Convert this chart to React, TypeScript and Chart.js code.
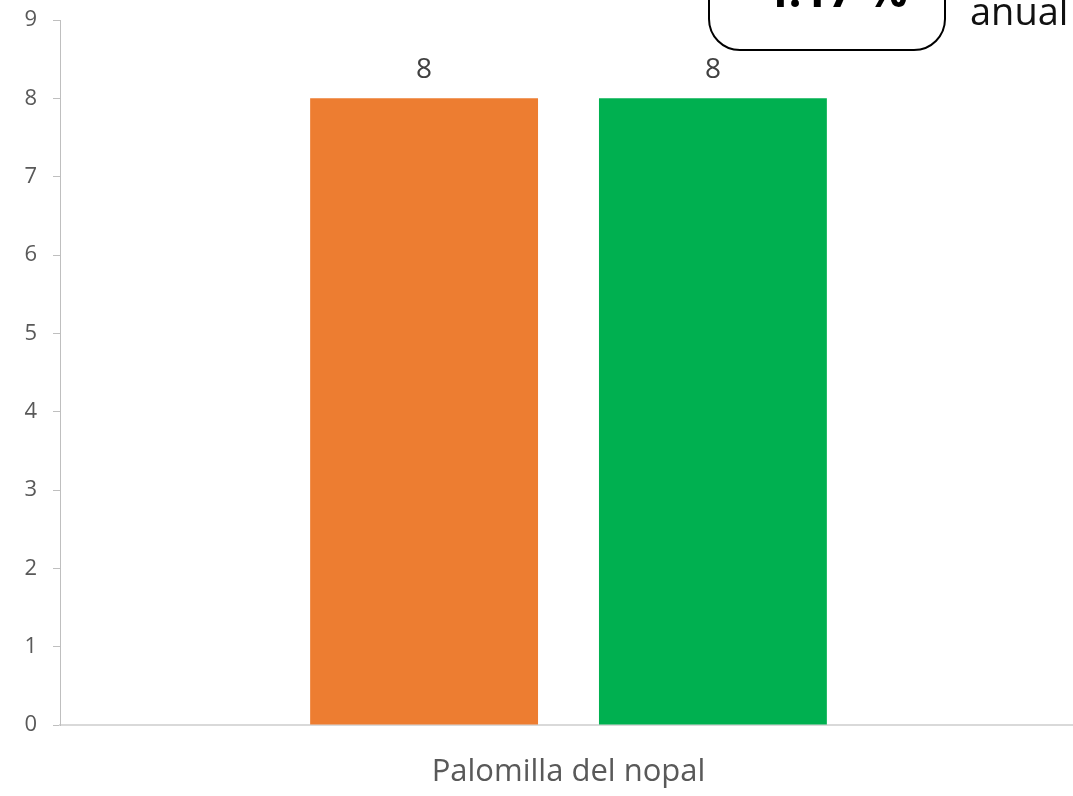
import React, { useEffect, useRef } from "react";
import { Chart, registerables } from "chart.js";

Chart.register(...registerables);

const categories = ["Palomilla del nopal"];
const seriesA = [8];
const seriesB = [8];
const seriesColors = ["#ED7D31", "#00B050"];
const yTicks = [0, 1, 2, 3, 4, 5, 6, 7, 8, 9];
const boxText = "4.17 %";
const sideText = "anual";

const valueLabels = {
  id: "valueLabels",
  afterDatasetsDraw(chart: any) {
    const ctx = chart.ctx;
    ctx.save();
    ctx.font = "28px 'Open Sans'";
    ctx.fillStyle = "#404040";
    ctx.textAlign = "center";
    ctx.textBaseline = "middle";
    chart.data.datasets.forEach((ds: any, i: number) => {
      const meta = chart.getDatasetMeta(i);
      meta.data.forEach((bar: any, j: number) => {
        ctx.fillText(String(ds.data[j]), bar.x, bar.y - 28);
      });
    });
    ctx.restore();
  },
};

export default function App() {
  const ref = useRef<HTMLCanvasElement>(null);
  useEffect(() => {
    if (!ref.current) return;
    const chart = new Chart(ref.current, {
      type: "bar",
      data: {
        labels: categories,
        datasets: [
          { data: seriesA, backgroundColor: seriesColors[0], categoryPercentage: 0.568, barPercentage: 0.789 },
          { data: seriesB, backgroundColor: seriesColors[1], categoryPercentage: 0.568, barPercentage: 0.789 },
        ],
      },
      options: {
        responsive: false,
        animation: false,
        layout: { padding: { top: 20, left: 0, right: 0, bottom: 0 } },
        plugins: { legend: { display: false }, tooltip: { enabled: false } },
        scales: {
          x: {
            grid: { display: true, drawOnChartArea: false, drawTicks: false },
            border: { display: true, color: "#d9d9d9", width: 2 },
            ticks: { color: "#595959", font: { family: "'Open Sans'", size: 31 }, padding: 29 },
            afterFit: (s: any) => {
              s.height = 71;
              s.paddingLeft = 0;
              s.paddingRight = 0;
            },
          },
          y: {
            min: 0,
            max: 9,
            afterBuildTicks: (s: any) => { s.ticks = yTicks.map((v) => ({ value: v })); },
            grid: { display: true, drawOnChartArea: false, drawTicks: true, tickLength: 7, color: "#bfbfbf" },
            border: { display: true, color: "#bfbfbf", width: 1 },
            ticks: { color: "#595959", font: { family: "'Open Sans'", size: 22 }, padding: 16 },
            afterFit: (s: any) => {
              s.width = 60;
              s.paddingTop = 0;
              s.paddingBottom = 0;
            },
          },
        },
      },
      plugins: [valueLabels],
    });
    return () => chart.destroy();
  }, []);

  return (
    <div style={{ position: "fixed", left: 0, top: 0, width: 1073, height: 796, overflow: "hidden", background: "#fff" }}>
      <canvas ref={ref} width={1077} height={796} style={{ position: "absolute", left: 0, top: 0, width: 1077, height: 796 }} />
      <div
        style={{
          position: "absolute",
          left: 708,
          top: -50,
          width: 238,
          height: 101,
          boxSizing: "border-box",
          border: "2px solid #000",
          borderRadius: 32,
          background: "#fff",
        }}
      >
        <div
          style={{
            position: "absolute",
            left: 0,
            right: 0,
            top: 0,
            textAlign: "center",
            fontFamily: "'Open Sans'",
            fontWeight: 700,
            fontSize: 46,
            lineHeight: "46px",
            color: "#000",
            paddingTop: 14,
            paddingLeft: 16,
          }}
        >
          {boxText}
        </div>
      </div>
      <div
        style={{
          position: "absolute",
          left: 970,
          top: -16,
          fontFamily: "'Open Sans'",
          fontSize: 38,
          lineHeight: "52px",
          color: "#111",
          whiteSpace: "nowrap",
        }}
      >
        {sideText}
      </div>
    </div>
  );
}
